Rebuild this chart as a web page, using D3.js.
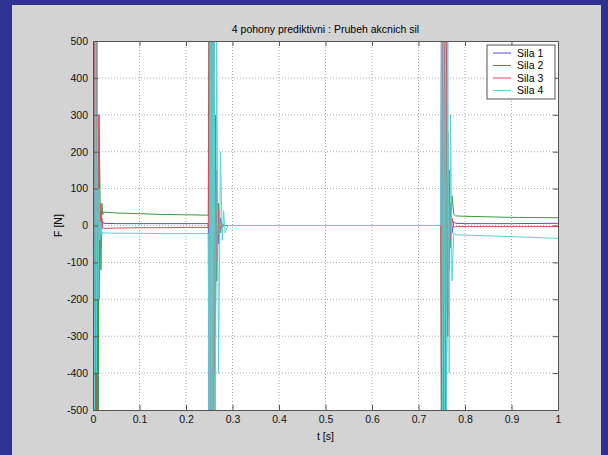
<!DOCTYPE html>
<html>
<head>
<meta charset="utf-8">
<script src="https://cdn.jsdelivr.net/npm/d3@7"></script>
<style>
body { margin: 0; background: #2e3192; }
text { font-family: "Liberation Sans", Arial, sans-serif; }
</style>
</head>
<body>
<script>
// time samples and forces
var t = [0, 0.003, 0.005, 0.007, 0.009, 0.011, 0.013, 0.015, 0.017, 0.019, 0.021, 0.023, 0.05, 0.1, 0.15, 0.2, 0.248,
  0.250, 0.252, 0.254, 0.256, 0.258, 0.260, 0.263, 0.266, 0.270, 0.274, 0.278, 0.281, 0.284, 0.29, 0.5, 0.748,
  0.750, 0.752, 0.754, 0.756, 0.758, 0.760, 0.763, 0.766, 0.769, 0.772, 0.776, 0.780, 0.8, 0.9, 1.0];
var sila1 = [0, 800, -900, 700, -800, -600, 200, -60, 40, -10, 10, 6, 5, 5, 5, 5, 5,
  -900, 800, -700, 900, -600, 500, -300, 150, -50, 20, -5, 0, 0, 0, 0, 0,
  900, -800, 700, -900, 600, -500, 250, -120, 60, -20, 10, 6, 5, 5, 6];
var sila2 = [0, -900, 1000, -900, 800, -700, 300, 100, -120, 60, 30, 36, 34, 32, 30, 29, 28,
  900, -900, 800, -700, 600, -500, 300, -150, 60, -20, 5, 0, 0, 0, 0, 0,
  -900, 900, -800, 700, -600, 400, -250, 150, -60, 80, 30, 26, 25, 22, 21];
var sila3 = [0, 600, -700, 800, -600, 300, -200, 60, -30, 20, -6, -8, -7, -6, -6, -5, -5,
  700, -800, 900, -800, 500, -400, 200, -100, 40, -10, 3, 0, 0, 0, 0, 0,
  -800, 900, -700, 800, -700, 500, -300, 100, -40, 20, -5, -3, -3, -3, -3];
var sila4 = [0, -500, 600, -400, 500, -200, 100, -40, 10, -25, -18, -20, -21, -21, -22, -22, -22,
  -800, 900, -900, 800, -700, 800, -600, 500, -400, 200, -40, 40, -20, 0, 0, 0,
  800, -900, 900, -700, 800, -600, 500, -400, 300, -150, -20, -25, -26, -30, -35];
var names = ['Sila 1', 'Sila 2', 'Sila 3', 'Sila 4'];
var colors = ['#5050d0', '#3a9a45', '#e0485a', '#5ad2d2'];
var xTicks = [0, 0.1, 0.2, 0.3, 0.4, 0.5, 0.6, 0.7, 0.8, 0.9, 1];
var yTicks = [-500, -400, -300, -200, -100, 0, 100, 200, 300, 400, 500];

var W = 608, H = 455;
var L = 93, R = 558, T = 41, B = 410;

var svg = d3.select('body').append('svg').attr('width', W).attr('height', H);
svg.append('rect').attr('x', 12).attr('y', 5).attr('width', 589).attr('height', 450).attr('fill', '#d3d3d3');
svg.append('rect').attr('x', L).attr('y', T).attr('width', R - L).attr('height', B - T).attr('fill', '#fff');

var x = d3.scaleLinear().domain([0, 1]).range([L, R]);
var y = d3.scaleLinear().domain([-500, 500]).range([B, T]);
var fmt = function(d) { return String(d); };

// grid
var grid = svg.append('g');
grid.selectAll('.gx').data(xTicks.slice(1, -1)).enter().append('line')
  .attr('x1', d => x(d)).attr('x2', d => x(d)).attr('y1', T).attr('y2', B)
  .style('stroke', '#aaa').style('stroke-dasharray', '1,2');
grid.selectAll('.gy').data(yTicks.slice(1, -1)).enter().append('line')
  .attr('x1', L).attr('x2', R).attr('y1', d => y(d)).attr('y2', d => y(d))
  .style('stroke', '#aaa').style('stroke-dasharray', '1,2');

// series
svg.append('clipPath').attr('id', 'clip').append('rect')
  .attr('x', L).attr('y', T).attr('width', R - L).attr('height', B - T);
var line = d3.line().x((d, i) => x(t[i])).y(d => y(d));
var plot = svg.append('g').attr('clip-path', 'url(#clip)');
[sila1, sila2, sila3, sila4].forEach(function(s, k) {
  plot.append('path').datum(s).attr('d', line).attr('fill', 'none')
    .style('stroke', colors[k]).style('stroke-width', 1);
});

// axes, ticks inward on all sides
var ax = svg.append('g');
ax.append('g').attr('transform', 'translate(0,' + B + ')')
  .call(d3.axisBottom(x).tickValues(xTicks).tickSize(-5).tickPadding(6).tickFormat(fmt));
ax.append('g').attr('transform', 'translate(0,' + T + ')')
  .call(d3.axisTop(x).tickValues(xTicks).tickSize(-5).tickFormat(''));
ax.append('g').attr('transform', 'translate(' + L + ',0)')
  .call(d3.axisLeft(y).tickValues(yTicks).tickSize(-5).tickPadding(5).tickFormat(fmt));
ax.append('g').attr('transform', 'translate(' + R + ',0)')
  .call(d3.axisRight(y).tickValues(yTicks).tickSize(-5).tickFormat(''));
ax.selectAll('.domain').style('stroke', '#555');
ax.selectAll('.tick line').style('stroke', '#555');
ax.selectAll('.tick text').style('font-size', '10.5px').style('fill', '#111')
  .style('font-family', '"Liberation Sans", Arial, sans-serif');

// labels
svg.append('text').attr('x', (L + R) / 2).attr('y', 33).attr('text-anchor', 'middle')
  .style('font-size', '10.5px').text('4 pohony prediktivni : Prubeh akcnich sil');
svg.append('text').attr('x', (L + R) / 2).attr('y', 440).attr('text-anchor', 'middle')
  .style('font-size', '10.5px').text('t [s]');
svg.append('text').attr('transform', 'translate(62,' + y(0) + ') rotate(-90)').attr('text-anchor', 'middle')
  .style('font-size', '10.5px').text('F [N]');

// legend
var lg = svg.append('g').attr('transform', 'translate(487,45)');
lg.append('rect').attr('width', 68).attr('height', 54).attr('fill', '#fff').style('stroke', '#555');
names.forEach(function(n, k) {
  var yy = 8 + k * 12.5;
  lg.append('line').attr('x1', 6).attr('x2', 24).attr('y1', yy).attr('y2', yy).style('stroke', colors[k]);
  lg.append('text').attr('x', 30).attr('y', yy + 3.5).style('font-size', '10.5px').text(n);
});
</script>
</body>
</html>
